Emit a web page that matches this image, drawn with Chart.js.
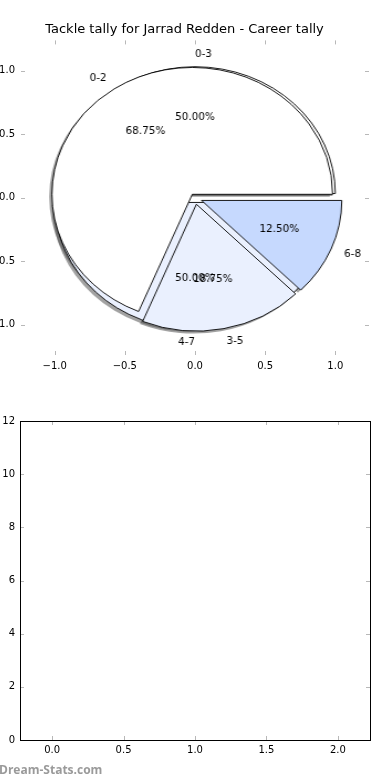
<!DOCTYPE html>
<html>
<head>
<meta charset="utf-8">
<script src="https://cdn.jsdelivr.net/npm/chart.js@4.4.1/dist/chart.umd.min.js"></script>
<style>
  html, body { margin: 0; padding: 0; background: #fff; }
  #page { position: relative; width: 390px; height: 780px; overflow: hidden; }
  canvas { position: absolute; }
  #mark { position: absolute; left: -1px; top: 761px; font: bold 12px "Open Sans", sans-serif; color: #9a9a9a; }
</style>
</head>
<body>
<div id="page">
  <canvas id="pieAxes" width="390" height="380" style="left:0;top:0"></canvas>
  <canvas id="halfPie" style="z-index:2"></canvas>
  <canvas id="tallyPie" style="z-index:3"></canvas>
  <canvas id="emptyPanel" width="390" height="380" style="left:0;top:400px"></canvas>
  <div id="mark">Dream-Stats.com</div>
</div>
<script>
const chartTitle = 'Tackle tally for Jarrad Redden - Career tally';

// career tally, three bands
const tallyRanges = ['0-2', '3-5', '6-8'];
const tallyGames = [11, 3, 2];

// second split drawn on the same axes, two bands
const halfRanges = ['0-3', '4-7'];
const halfGames = [8, 8];

// lower panel: nothing plotted
const emptyPanelPoints = [];

const tallyColors = ['#ffffff', '#eaf0fe', '#c6d9fe'];
const halfColors = ['#ffffff', '#eaf0fe'];
const tallyExplode = [0.035, 0.05, 0.05];
const halfExplode = [0.035, 0.035];

Chart.defaults.font.family = 'DejaVu Sans';
Chart.defaults.font.size = 10;
Chart.defaults.color = '#000';

function fmtTick(v) {
    const s = Math.abs(v) < 1e-9 ? '0.0' : Number(v).toFixed(1);
    return s.replace('-', '\u2212');
}

/* =========================
   inward ticks (+ frame)
========================= */
function tickMarks(withFrame) {
    return {
        id: 'tickMarks',
        afterDraw(chart) {
            const { ctx, chartArea: a, scales: { x, y } } = chart;
            ctx.save();
            ctx.strokeStyle = '#b8b8b8';
            ctx.lineWidth = 1;
            ctx.beginPath();
            x.ticks.forEach(t => {
                const px = Math.round(x.getPixelForValue(t.value)) + 0.5;
                ctx.moveTo(px, a.top); ctx.lineTo(px, a.top + 4);
                ctx.moveTo(px, a.bottom); ctx.lineTo(px, a.bottom - 4);
            });
            y.ticks.forEach(t => {
                const py = Math.round(y.getPixelForValue(t.value)) + 0.5;
                ctx.moveTo(a.left, py); ctx.lineTo(a.left + 4, py);
                ctx.moveTo(a.right, py); ctx.lineTo(a.right - 4, py);
            });
            ctx.stroke();
            if (withFrame) {
                ctx.strokeStyle = '#000';
                ctx.strokeRect(Math.round(a.left) + 0.5, Math.round(a.top) + 0.5,
                    Math.round(a.width), Math.round(a.height));
            }
            ctx.restore();
        }
    };
}

const noGrid = { display: false, drawTicks: false };

/* =========================
   top axes (pie sits on it)
========================= */
const axesChart = new Chart(document.getElementById('pieAxes'), {
    type: 'scatter',
    data: { datasets: [{ data: [] }] },
    options: {
        responsive: false,
        animation: false,
        layout: { padding: { right: 21 } },
        plugins: {
            legend: { display: false },
            tooltip: { enabled: false },
            title: {
                display: true, text: chartTitle, color: '#000',
                font: { size: 13, weight: 'normal' },
                padding: { top: 22, bottom: 2.8 }
            }
        },
        scales: {
            x: {
                min: -1.24, max: 1.24,
                grid: noGrid, border: { display: false },
                ticks: { stepSize: 0.5, includeBounds: false, padding: 5, maxRotation: 0, callback: fmtTick },
                afterFit(s) { s.height = 25; }
            },
            y: {
                min: -1.24, max: 1.24,
                grid: noGrid, border: { display: false },
                ticks: { stepSize: 0.5, includeBounds: false, padding: 6, callback: fmtTick },
                afterFit(s) { s.width = 21; }
            }
        }
    },
    plugins: [tickMarks(false)]
});

const xs = axesChart.scales.x, ys = axesChart.scales.y;
const cx = xs.getPixelForValue(0), cy = ys.getPixelForValue(0);
const rx = xs.getPixelForValue(1) - cx;
const ry = cy - ys.getPixelForValue(1);
const stretch = rx / ry;
const side = Math.ceil(ry * 2.8);

function placePie(canvas) {
    canvas.width = side;
    canvas.height = side;
    canvas.style.left = (cx - side / 2) + 'px';
    canvas.style.top = (cy - side / 2) + 'px';
    canvas.style.transformOrigin = '50% 50%';
    canvas.style.transform = 'scaleX(' + stretch + ')';
}

function midOf(arc) {
    return (arc.startAngle + arc.endAngle) / 2;
}

// draws slices pushed out along their middle angle; last slice first so
// the order on screen matches matplotlib's
function explodePlugin(amounts) {
    return {
        id: 'explodeSlices',
        beforeDatasetDraw(chart, args) {
            const ctx = chart.ctx;
            const arcs = args.meta.data;
            for (let i = arcs.length - 1; i >= 0; i--) {
                const arc = arcs[i];
                const d = amounts[i] * arc.outerRadius;
                ctx.save();
                ctx.translate(Math.cos(midOf(arc)) * d, Math.sin(midOf(arc)) * d);
                arc.draw(ctx);
                ctx.restore();
            }
            return false;
        }
    };
}

function pieConfig(values, colors, amounts, extraPlugins) {
    return {
        type: 'pie',
        data: {
            datasets: [{
                // reversed: chart.js runs clockwise, matplotlib anticlockwise
                data: values.slice().reverse(),
                backgroundColor: colors.slice().reverse(),
                borderColor: '#000',
                borderWidth: 0.9
            }]
        },
        options: {
            responsive: false,
            animation: false,
            radius: ry,
            rotation: 90,
            layout: { padding: 0 },
            plugins: { legend: { display: false }, tooltip: { enabled: false } }
        },
        plugins: [explodePlugin(amounts.slice().reverse())].concat(extraPlugins)
    };
}

/* =========================
   texts on the top layer
========================= */
function putText(ctx, text, x, y, align) {
    ctx.save();
    ctx.translate(x, y);
    ctx.scale(1 / stretch, 1);
    ctx.textAlign = align;
    ctx.textBaseline = 'middle';
    ctx.fillText(text, 0, 0);
    ctx.restore();
}

function drawPieTexts(ctx, ref, labels, values, explode) {
    const total = values.reduce((a, b) => a + b, 0);
    const r = ref.outerRadius;
    let acc = 0;
    values.forEach((v, i) => {
        const t1 = acc / total * 360;
        acc += v;
        const t2 = acc / total * 360;
        const mid = (t1 + t2) / 2 * Math.PI / 180;
        const c = Math.cos(mid), s = Math.sin(mid);
        const e = explode[i];
        putText(ctx, labels[i], ref.x + (1.1 + e) * r * c, ref.y - (1.1 + e) * r * s, c > 0 ? 'left' : 'right');
        putText(ctx, (v / total * 100).toFixed(2) + '%', ref.x + (0.6 + e) * r * c, ref.y - (0.6 + e) * r * s, 'center');
    });
}

let tallyChart = null;
let halfChart = null;

const pieTexts = {
    id: 'pieTexts',
    afterDraw(chart) {
        const ctx = chart.ctx;
        ctx.save();
        ctx.fillStyle = '#000';
        ctx.font = '10.4px "DejaVu Sans"';
        drawPieTexts(ctx, chart.getDatasetMeta(0).data[0], tallyRanges, tallyGames, tallyExplode);
        if (halfChart) {
            drawPieTexts(ctx, halfChart.getDatasetMeta(0).data[0], halfRanges, halfGames, halfExplode);
        }
        ctx.restore();
    }
};

// all shadows go under every slice, so they live on the lowest pie layer
const pieShadows = {
    id: 'pieShadows',
    beforeDatasetsDraw(chart) {
        const ctx = chart.ctx;
        const sources = [
            { arcs: chart.getDatasetMeta(0).data, amounts: halfExplode.slice().reverse() },
            { arcs: tallyChart.getDatasetMeta(0).data, amounts: tallyExplode.slice().reverse() }
        ];
        ctx.save();
        ctx.fillStyle = 'rgba(70,70,70,0.5)';
        sources.forEach(src => {
            src.arcs.forEach((arc, i) => {
                const d = src.amounts[i] * arc.outerRadius;
                const sh = 0.02 * arc.outerRadius;
                const ox = arc.x + Math.cos(midOf(arc)) * d - sh;
                const oy = arc.y + Math.sin(midOf(arc)) * d + sh;
                ctx.beginPath();
                ctx.moveTo(ox, oy);
                ctx.arc(ox, oy, arc.outerRadius, arc.startAngle, arc.endAngle);
                ctx.closePath();
                ctx.fill();
            });
        });
        ctx.restore();
    }
};

const tallyCanvas = document.getElementById('tallyPie');
const halfCanvas = document.getElementById('halfPie');
placePie(tallyCanvas);
placePie(halfCanvas);

tallyChart = new Chart(tallyCanvas, pieConfig(tallyGames, tallyColors, tallyExplode, [pieTexts]));
halfChart = new Chart(halfCanvas, pieConfig(halfGames, halfColors, halfExplode, [pieShadows]));
tallyChart.draw();

/* =========================
   lower, empty panel
========================= */
new Chart(document.getElementById('emptyPanel'), {
    type: 'scatter',
    data: { datasets: [{ data: emptyPanelPoints }] },
    options: {
        responsive: false,
        animation: false,
        layout: { padding: { top: 21, right: 20 } },
        plugins: { legend: { display: false }, tooltip: { enabled: false } },
        scales: {
            x: {
                min: -0.225, max: 2.225,
                grid: noGrid, border: { display: false },
                ticks: { stepSize: 0.5, includeBounds: false, padding: 4, maxRotation: 0, callback: v => Number(v).toFixed(1) },
                afterFit(s) { s.height = 40; }
            },
            y: {
                min: 0, max: 12,
                grid: noGrid, border: { display: false },
                ticks: { stepSize: 2, padding: 5 },
                afterFit(s) { s.width = 20; }
            }
        }
    },
    plugins: [tickMarks(true)]
});
</script>
</body>
</html>
